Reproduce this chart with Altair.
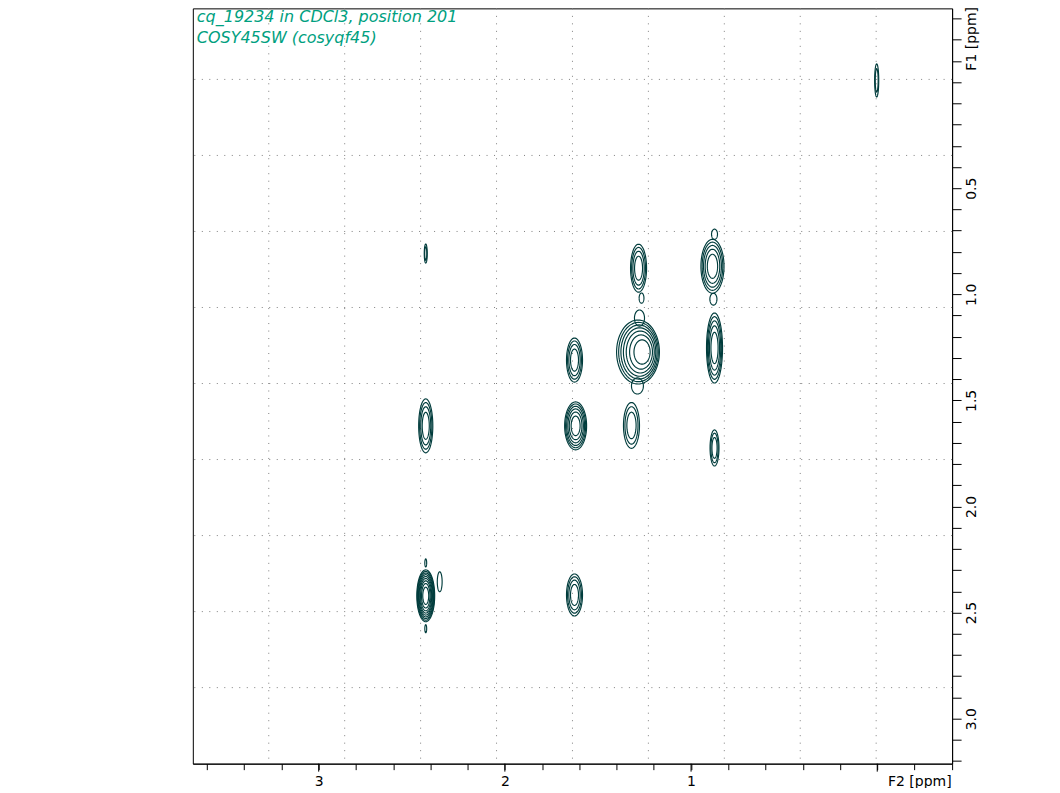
import altair as alt
import pandas as pd
import numpy as np

# ---- axis ranges (ppm) ----
F2_DOMAIN = [-0.402, 3.676]
F1_DOMAIN = [-0.3475, 3.212]
F1_FRAME_TOP = -0.371

# ---- tick values ----
f2_ticks = [round(-0.4 + 0.2 * k, 1) for k in range(21)]
f2_major = [0, 1, 2, 3]
f1_ticks = [round(-0.3 + 0.1 * k, 1) for k in range(36)]

# ---- grid (10 equal divisions of the frame) ----
grid_f2 = [F2_DOMAIN[1] - k * (F2_DOMAIN[1] - F2_DOMAIN[0]) / 10 for k in range(1, 10)]
grid_f1 = [F1_FRAME_TOP + k * (F1_DOMAIN[1] - F1_FRAME_TOP) / 10 for k in range(1, 10)]

# ---- cross peaks ----
peak_f2 = [0.003, 2.425, 1.282, 1.266, 0.885, 0.874, 0.880, 1.285, 1.277, 1.288,
           0.874, 1.626, 2.425, 1.620, 1.320, 0.874, 2.425, 2.425, 2.425, 2.350, 1.626]
peak_f1 = [-0.008, 0.808, 0.877, 1.018, 0.868, 0.717, 1.023, 1.272, 1.112, 1.432,
           1.253, 1.310, 1.620, 1.620, 1.618, 1.724, 2.421, 2.266, 2.576, 2.355, 2.417]
peak_w2 = [0.011, 0.008, 0.043, 0.013, 0.062, 0.016, 0.019, 0.115, 0.027, 0.032,
           0.043, 0.043, 0.038, 0.059, 0.043, 0.024, 0.048, 0.005, 0.005, 0.013, 0.043]
peak_w1 = [0.078, 0.045, 0.113, 0.024, 0.127, 0.024, 0.028, 0.151, 0.038, 0.038,
           0.165, 0.104, 0.127, 0.113, 0.108, 0.085, 0.122, 0.019, 0.019, 0.047, 0.099]
peak_lv = [2, 2, 4, 1, 5, 1, 1, 7, 1, 1,
           5, 4, 4, 6, 3, 3, 9, 1, 1, 1, 4]
peak_sh = [0, 0, 0, 0, 0, 0, 0, -0.035, 0, 0,
           0, 0, 0, 0, 0, 0, 0, 0, 0, 0, 0]

title_lines = ["cq_19234 in CDCl3, position 201", "COSY45SW (cosyqf45)"]

# ---- contour outlines from peak parameters ----
rows = []
ang = np.linspace(0, 2 * np.pi, 73)
cid = 0
for f2, f1, w2, w1, lv, sh in zip(peak_f2, peak_f1, peak_w2, peak_w1, peak_lv, peak_sh):
    for k in range(lv):
        s = np.sqrt(1 - k / lv)
        cx = f2 + sh * (1 - s)
        for i, a in enumerate(ang):
            rows.append({"cid": cid, "i": i,
                         "f2": cx + w2 * s * np.cos(a),
                         "f1": f1 + w1 * s * np.sin(a)})
        cid += 1
contours = pd.DataFrame(rows)

W, H = 760, 756
FONT = "DejaVu Sans"
INK = "#003c3c"

xs = alt.Scale(domain=F2_DOMAIN, reverse=True, nice=False, zero=False)
ys = alt.Scale(domain=F1_DOMAIN, reverse=True, nice=False, zero=False)

xaxis = alt.Axis(
    orient="bottom", values=f2_ticks, grid=False, tickSize=6, tickColor="black",
    domainColor="black", labelColor="black", labelFont=FONT, labelFontSize=14,
    labelPadding=5, labelOverlap=False, labelFlush=False, labelBound=False,
    labelExpr="abs(datum.value - round(datum.value)) < 0.01 && datum.value > 0.5 ? format(datum.value, 'd') : ''",
    title="F2 [ppm]", titleFont=FONT, titleFontSize=14, titleFontWeight="normal",
    titleColor="black", titleX=759, titleY=22, titleAlign="right",
    titleBaseline="alphabetic",
)
yaxis = alt.Axis(
    orient="right", values=f1_ticks, grid=False, tickSize=9, tickColor="black",
    domainColor="black", labelColor="black", labelFont=FONT, labelFontSize=14,
    labelAngle=270, labelAlign="center", labelBaseline="middle", labelPadding=10,
    labelOverlap=False, labelFlush=False, labelBound=False,
    labelExpr="abs(datum.value*2 - round(datum.value*2)) < 0.01 && datum.value > 0.2 ? format(datum.value, '.1f') : ''",
    title="F1 [ppm]", titleFont=FONT, titleFontSize=14, titleFontWeight="normal",
    titleColor="black", titleAngle=270, titleX=19, titleY=30, titleAlign="center",
    titleBaseline="middle",
)

X = lambda f: alt.X(f, scale=xs, axis=xaxis)
Y = lambda f: alt.Y(f, scale=ys, axis=yaxis)

grid_v = alt.Chart(pd.DataFrame({"f2": grid_f2})).mark_rule(
    color="#808080", strokeWidth=1, strokeDash=[1, 6.5]
).encode(x=X("f2:Q"))

grid_h = alt.Chart(pd.DataFrame({"f1": grid_f1})).mark_rule(
    color="#808080", strokeWidth=1, strokeDash=[1, 6.5]
).encode(y=Y("f1:Q"))

lines = alt.Chart(contours).mark_line(color=INK, strokeWidth=1.15).encode(
    x=X("f2:Q"), y=Y("f1:Q"), detail="cid:N", order="i:Q"
)

major = alt.Chart(pd.DataFrame({"f2": f2_major})).mark_rule(color="black").encode(
    x=X("f2:Q"), y=alt.value(H), y2=alt.value(H + 8)
)

t1 = alt.Chart(pd.DataFrame({"t": [title_lines[0]]})).mark_text(
    align="left", baseline="alphabetic", font=FONT, fontStyle="italic",
    fontSize=16, color="#00a080"
).encode(x=alt.value(4), y=alt.value(14), text="t:N")

t2 = alt.Chart(pd.DataFrame({"t": [title_lines[1]]})).mark_text(
    align="left", baseline="alphabetic", font=FONT, fontStyle="italic",
    fontSize=16, color="#00a080"
).encode(x=alt.value(4), y=alt.value(35), text="t:N")

chart = alt.layer(grid_v, grid_h, lines, major, t1, t2).properties(
    width=W, height=H,
    padding={"left": 185, "top": 0, "right": 100, "bottom": 24},
    autosize=alt.AutoSizeParams(type="none"),
    background="white",
).configure_view(stroke="black", strokeWidth=1)

chart.save("out.html", embed_options={"renderer": "svg", "actions": False})
